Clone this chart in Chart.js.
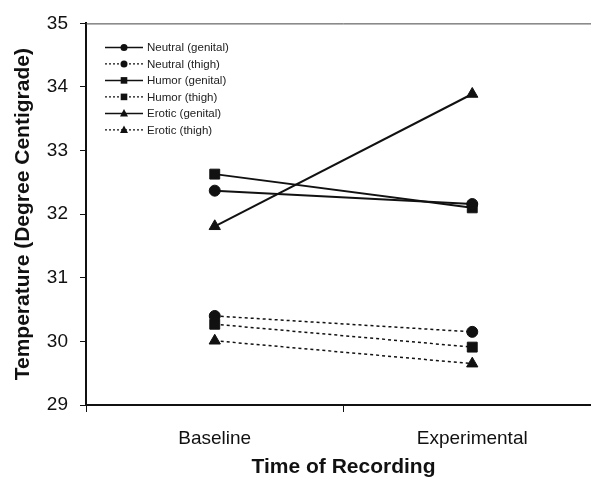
<!DOCTYPE html>
<html>
<head>
<meta charset="utf-8">
<script src="https://cdn.jsdelivr.net/npm/chart.js@4"></script>
<style>
  html, body { margin: 0; padding: 0; background: #fff; overflow: hidden; }
  canvas { display: block; }
</style>
</head>
<body>
<canvas id="tempChart" width="610" height="479"></canvas>
<script>
// values
const timePoints = ['Baseline', 'Experimental'];
const seriesNames = ['Neutral (genital)', 'Neutral (thigh)', 'Humor (genital)', 'Humor (thigh)', 'Erotic (genital)', 'Erotic (thigh)'];
const neutralGenital = [32.37, 32.16];
const neutralThigh = [30.40, 30.15];
const humorGenital = [32.63, 32.10];
const humorThigh = [30.27, 29.91];
const eroticGenital = [31.81, 33.89];
const eroticThigh = [30.01, 29.65];
const yTicks = [29, 30, 31, 32, 33, 34, 35];

const ink = '#111';
const fontFamily = '"Liberation Sans", Arial, Helvetica, sans-serif';

const seriesValues = [neutralGenital, neutralThigh, humorGenital, humorThigh, eroticGenital, eroticThigh];
const markerShapes = ['circle', 'circle', 'rect', 'rect', 'triangle', 'triangle'];
const markerSizes = { circle: 5.5, rect: 7, triangle: 6.5 };

const datasets = seriesNames.map((name, i) => {
  const thigh = name.includes('thigh');
  const shape = markerShapes[i];
  return {
    label: name,
    data: seriesValues[i],
    borderColor: ink,
    backgroundColor: ink,
    borderWidth: thigh ? 1.5 : 2,
    borderDash: thigh ? [3, 3] : [],
    pointStyle: shape,
    pointRadius: markerSizes[shape],
    pointBackgroundColor: ink,
    pointBorderColor: ink,
    pointBorderWidth: 1,
    tension: 0
  };
});

function drawMarker(ctx, shape, x, y, r) {
  ctx.beginPath();
  if (shape === 'circle') {
    ctx.arc(x, y, r, 0, Math.PI * 2);
  } else if (shape === 'rect') {
    ctx.rect(x - r, y - r, r * 2, r * 2);
  } else {
    ctx.moveTo(x, y - r * 1.1);
    ctx.lineTo(x + r, y + r * 0.8);
    ctx.lineTo(x - r, y + r * 0.8);
    ctx.closePath();
  }
  ctx.fill();
}

// key in the upper left corner of the plot
const seriesKey = {
  id: 'seriesKey',
  afterDatasetsDraw(chart) {
    const { ctx, chartArea } = chart;
    const x0 = chartArea.left + 19;
    const y0 = chartArea.top + 24;
    const rowGap = 16.5;
    const lineLen = 38;
    ctx.save();
    chart.data.datasets.forEach((ds, i) => {
      const y = y0 + i * rowGap;
      ctx.strokeStyle = ink;
      ctx.lineWidth = ds.borderWidth === 2 ? 1.5 : 1.2;
      ctx.setLineDash(ds.borderDash.length ? [2, 2] : []);
      ctx.beginPath();
      ctx.moveTo(x0, y);
      ctx.lineTo(x0 + lineLen, y);
      ctx.stroke();
      ctx.setLineDash([]);
      ctx.fillStyle = ink;
      const small = { circle: 3.5, rect: 3.3, triangle: 4 };
      drawMarker(ctx, ds.pointStyle, x0 + lineLen / 2, y, small[ds.pointStyle]);
      ctx.font = '11.5px ' + fontFamily;
      ctx.textBaseline = 'middle';
      ctx.textAlign = 'left';
      ctx.fillStyle = '#222';
      ctx.fillText(ds.label, x0 + lineLen + 4, y + 0.5);
    });
    ctx.restore();
  }
};

// thin frame line along the top of the plot
const topFrame = {
  id: 'topFrame',
  afterDraw(chart) {
    const { ctx, chartArea } = chart;
    ctx.save();
    ctx.strokeStyle = '#444';
    ctx.lineWidth = 1;
    ctx.beginPath();
    ctx.moveTo(chartArea.left, chartArea.top + 0.5);
    ctx.lineTo(chartArea.right, chartArea.top + 0.5);
    ctx.stroke();
    ctx.restore();
  }
};

new Chart(document.getElementById('tempChart').getContext('2d'), {
  type: 'line',
  data: { labels: timePoints, datasets: datasets },
  options: {
    responsive: false,
    animation: false,
    layout: { padding: { top: 22, right: 9, left: 0, bottom: 0 } },
    plugins: {
      legend: { display: false },
      tooltip: { enabled: false }
    },
    scales: {
      x: {
        type: 'category',
        offset: true,
        grid: { offset: true, drawOnChartArea: false, drawTicks: true, tickLength: 7, tickColor: ink, tickWidth: 1 },
        border: { display: true, color: ink, width: 2 },
        ticks: { color: ink, font: { family: fontFamily, size: 19 }, padding: 15, maxRotation: 0, autoSkip: false },
        title: {
          display: true,
          text: 'Time of Recording',
          color: ink,
          font: { family: fontFamily, size: 21, weight: 'bold', lineHeight: 1 },
          padding: { top: 0, bottom: 1 }
        },
        afterFit: s => { s.height = 74; }
      },
      y: {
        min: yTicks[0],
        max: yTicks[yTicks.length - 1],
        grid: { drawOnChartArea: false, drawTicks: true, tickLength: 6, tickColor: ink, tickWidth: 1 },
        border: { display: true, color: ink, width: 2 },
        ticks: { stepSize: 1, color: ink, font: { family: fontFamily, size: 19 }, padding: 12 },
        title: {
          display: true,
          text: 'Temperature (Degree Centigrade)',
          color: ink,
          font: { family: fontFamily, size: 21, weight: 'bold', lineHeight: 1 },
          padding: { top: 13, bottom: 0 }
        },
        afterFit: s => { s.width = 86; }
      }
    }
  },
  plugins: [seriesKey, topFrame]
});
</script>
</body>
</html>
